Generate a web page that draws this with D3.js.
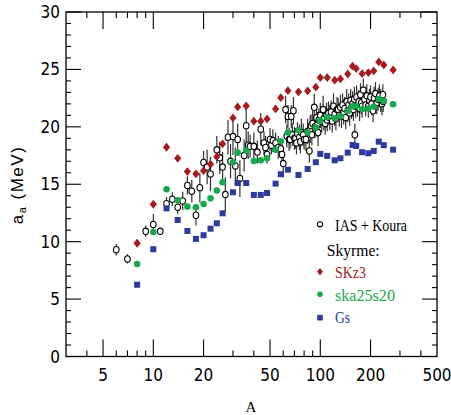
<!DOCTYPE html>
<html>
<head>
<meta charset="utf-8">
<style>
  body { margin: 0; background: #fff; }
  svg { display: block; }
</style>
</head>
<body>
<svg width="451" height="415"></svg>
<script src="https://d3js.org/d3.v7.min.js"></script>
<script>
// experimental values (IAS + Koura): mass number, a_a, error
var expA   = [6,7,9,10,11,12,13,14,15,16,17,18,19,20,21,22,24,25,26,27,28,29,30,31,32,33,35,36,37,38,40,42,44,46,47,48,50,51,52,54,56,58,59,60,
              62,63,64,65,66,67,68,69,70,71,72,73,75,76,77,79,80,82,84,86,87,88,89,90,92,93,95,96,97,98,100,102,104,105,107,109,110,112,114,116,118,
              120,122,124,126,128,130,132,134,136,138,140,142,144,146,148,150,152,154,156,158,160,161,163,165,167,170,172,174,176,178,181,184,187,
              190,194,197,200,203,207,210,214,218,222,226,230,234,237,238];
var expVal = [9.3,8.5,10.9,11.5,10.9,13.3,13.7,13.0,13.55,14.9,14.4,12.3,14.7,16.9,16.5,15.9,18.0,17.3,16.5,14.1,19.1,17.0,19.15,16.6,18.9,15.5,17.5,20.1,18.4,18.3,18.3,17.8,19.8,18.6,18.2,17.6,18.9,18.4,18.8,18.6,18.2,18.1,17.6,16.8,
              21.5,19.2,20.9,18.9,18.9,20.9,19.3,21.4,19.0,19.0,18.6,19.4,19.1,18.7,19.5,19.3,18.9,18.9,19.6,17.9,19.8,20.1,19.3,20.3,21.7,20.0,20.8,20.2,19.5,20.6,21.0,20.5,21.5,20.7,20.3,21.0,20.6,21.2,20.8,21.3,20.5,
              21.8,21.1,20.7,21.5,21.5,21.0,21.7,20.9,21.9,21.3,21.6,20.8,22.2,21.4,21.9,21.2,22.3,21.7,22.0,21.5,22.4,19.3,21.8,22.6,21.9,22.2,21.6,22.8,22.1,21.8,23.2,22.4,21.9,
              22.7,21.8,22.3,22.6,22.0,21.4,22.5,22.9,22.1,22.4,22.7,22.3,22.0,22.8,22.2];
var expErr = [0.5,0.4,0.5,0.9,0.3,0.6,0.6,0.6,0.8,0.8,1.0,0.9,1.3,1.0,1.5,1.5,1.2,1.4,1.3,1.5,1.5,1.5,1.6,1.6,1.4,1.6,1.4,1.5,1.2,1.0,1.2,1.0,1.4,1.0,1.0,0.8,1.0,0.8,1.0,0.9,1.0,0.8,1.0,1.2,
              1.2,1.0,1.0,1.0,0.8,1.0,1.0,1.2,1.0,0.9,1.0,1.0,1.1,1.0,1.2,1.0,0.9,1.0,1.1,1.0,1.2,1.0,0.9,1.1,1.2,1.0,1.0,1.1,1.2,1.0,1.1,1.0,1.2,1.0,1.0,1.1,1.0,1.0,1.1,1.0,1.0,
              1.1,1.0,1.0,1.1,1.0,1.0,1.1,1.0,1.0,1.1,1.0,1.0,1.1,1.0,1.0,1.1,1.0,1.0,1.1,1.0,1.1,1.0,1.0,1.0,1.0,1.0,1.1,1.0,1.0,1.0,1.0,1.0,1.0,
              1.0,1.0,1.0,1.0,1.0,1.0,1.0,1.0,1.0,1.0,1.0,1.0,1.0,0.9,0.9];

// Skyrme calculations
var skA     = [8,10,12,14,16,18,20,22,24,26,30,32,36,40,44,48,54,58,64,74,84,94,100,110,122,132,146,156,164,178,194,209,224,240,273];
var skz3    = [9.86,13.26,18.22,17.26,16.1,15.9,16.18,16.74,17.4,18.51,20.78,21.73,21.82,20.49,20.49,20.69,21.56,22.54,23.15,23.04,23.13,23.45,24.29,24.29,24.06,24.17,24.6,25.28,25.07,24.63,24.72,24.87,25.65,25.39,24.96];
var ska25s20= [8.06,10.84,14.56,13.6,13.05,13.0,13.28,13.77,14.46,15.17,16.92,17.75,17.93,17.03,17.09,17.26,18.01,18.75,19.5,19.7,19.53,19.97,20.54,20.84,20.75,20.92,21.38,21.79,21.82,21.53,21.59,21.76,22.43,22.26,21.97];
var gs      = [6.25,9.34,12.9,11.89,10.93,10.24,10.56,11.13,11.6,12.47,14.3,15.11,15.11,14.07,14.07,14.24,15.05,15.87,16.27,15.81,16.33,16.92,17.64,17.47,17.09,17.26,17.75,18.42,18.34,17.79,17.7,17.9,18.71,18.4,18.01];

var xLabels = [5,10,20,50,100,200,500];
var xMinor  = [4,6,7,8,9,30,40,60,70,80,90,300,400];
var yLabels = [0,5,10,15,20,25,30];

var red = "#a61b20", green = "#17a94b", blue = "#2b3a9c";

var svg = d3.select("svg"),
    margin = {top: 12, left: 66},
    width = 371, height = 344.5,
    g = svg.append("g").attr("transform", "translate(" + margin.left + "," + margin.top + ")");

var x = d3.scaleLog().domain([3, 500]).range([0, width]);
var y = d3.scaleLinear().domain([0, 30]).range([height, 0]);

var numFont = "'Liberation Sans Narrow','DejaVu Sans Condensed',sans-serif";

// frame
g.append("rect")
  .attr("width", width).attr("height", height)
  .attr("fill", "none").attr("stroke", "#000").attr("stroke-width", 1.3);

// x ticks (bottom and top)
var xt = xLabels.slice(0, -1).map(function(v) { return {v: v, len: 17}; })
  .concat(xMinor.map(function(v) { return {v: v, len: 6}; }));
g.selectAll(".xtb").data(xt).enter().append("line")
  .attr("x1", function(d) { return x(d.v); }).attr("x2", function(d) { return x(d.v); })
  .attr("y1", height).attr("y2", function(d) { return height - d.len; })
  .attr("stroke", "#000").attr("stroke-width", 1.1);
g.selectAll(".xtt").data(xt).enter().append("line")
  .attr("x1", function(d) { return x(d.v); }).attr("x2", function(d) { return x(d.v); })
  .attr("y1", 0).attr("y2", function(d) { return d.len; })
  .attr("stroke", "#000").attr("stroke-width", 1.1);
g.selectAll(".xl").data(xLabels).enter().append("text")
  .attr("x", function(d) { return x(d); }).attr("y", height + 24)
  .attr("text-anchor", "middle")
  .style("font-family", numFont).style("font-size", "17px")
  .text(function(d) { return d; });

// y ticks (left and right)
var yt = d3.range(0, 31).map(function(v) { return {v: v, len: v % 5 === 0 ? 15 : 5}; });
g.selectAll(".ytl").data(yt).enter().append("line")
  .attr("x1", 0).attr("x2", function(d) { return d.len; })
  .attr("y1", function(d) { return y(d.v); }).attr("y2", function(d) { return y(d.v); })
  .attr("stroke", "#000").attr("stroke-width", 1.1);
g.selectAll(".ytr").data(yt).enter().append("line")
  .attr("x1", width).attr("x2", function(d) { return width - d.len; })
  .attr("y1", function(d) { return y(d.v); }).attr("y2", function(d) { return y(d.v); })
  .attr("stroke", "#000").attr("stroke-width", 1.1);
g.selectAll(".yl").data(yLabels).enter().append("text")
  .attr("x", -6).attr("y", function(d) { return y(d) + 6; })
  .attr("text-anchor", "end")
  .style("font-family", numFont).style("font-size", "17px")
  .text(function(d) { return d; });

// axis titles
var yt2 = svg.append("text")
  .attr("transform", "translate(23,185) rotate(-90)")
  .attr("text-anchor", "middle")
  .style("font-family", "'Liberation Sans',sans-serif").style("font-size", "17px")
  .style("letter-spacing", "1.5px");
yt2.append("tspan").text("a");
yt2.append("tspan").attr("dy", 3).style("font-size", "11px").text("a");
yt2.append("tspan").attr("dy", -3).text("  (MeV)");

svg.append("text")
  .attr("x", 251).attr("y", 411.5).attr("text-anchor", "middle")
  .style("font-family", "'Liberation Serif',serif").style("font-size", "15px")
  .text("A");

// experimental points with error bars
var exp = expA.map(function(a, i) { return {a: a, v: expVal[i], e: expErr[i]}; });
g.selectAll(".err").data(exp).enter().append("line")
  .attr("x1", function(d) { return x(d.a); }).attr("x2", function(d) { return x(d.a); })
  .attr("y1", function(d) { return y(d.v - d.e); }).attr("y2", function(d) { return y(d.v + d.e); })
  .attr("stroke", "#333").attr("stroke-width", 1.2);
g.selectAll(".exp").data(exp).enter().append("ellipse")
  .attr("cx", function(d) { return x(d.a); }).attr("cy", function(d) { return y(d.v); })
  .attr("rx", 2.8).attr("ry", 3.2)
  .attr("fill", "#fff").attr("stroke", "#000").attr("stroke-width", 1.1);

// Skyrme markers
var diamond = "M0,-4.4L3.6,0L0,4.4L-3.6,0Z";
g.selectAll(".skz3").data(skA).enter().append("path")
  .attr("d", diamond)
  .attr("transform", function(d, i) { return "translate(" + x(d) + "," + y(skz3[i]) + ")"; })
  .attr("fill", red);
g.selectAll(".ska").data(skA).enter().append("circle")
  .attr("cx", function(d) { return x(d); }).attr("cy", function(d, i) { return y(ska25s20[i]); })
  .attr("r", 3.3).attr("fill", green);
g.selectAll(".gs").data(skA).enter().append("rect")
  .attr("x", function(d) { return x(d) - 3; }).attr("y", function(d, i) { return y(gs[i]) - 3; })
  .attr("width", 6).attr("height", 6).attr("fill", blue);

// legend
var lg = svg.append("g").style("font-family", "'Liberation Serif',serif").style("font-size", "16px");
lg.append("circle").attr("cx", 320).attr("cy", 224.3).attr("r", 2.6)
  .attr("fill", "#fff").attr("stroke", "#000").attr("stroke-width", 1.1);
lg.append("text").attr("x", 335).attr("y", 230.7).attr("textLength", 72).attr("lengthAdjust", "spacingAndGlyphs").text("IAS + Koura");
lg.append("text").attr("x", 326.7).attr("y", 255.7).attr("textLength", 53).attr("lengthAdjust", "spacingAndGlyphs").text("Skyrme:");
lg.append("path").attr("d", "M0,-3.8L3,0L0,3.8L-3,0Z").attr("transform", "translate(320,271.7)").attr("fill", red);
lg.append("text").attr("x", 335).attr("y", 278).attr("fill", red).attr("textLength", 31).attr("lengthAdjust", "spacingAndGlyphs").text("SKz3");
lg.append("circle").attr("cx", 320).attr("cy", 294.3).attr("r", 2.8).attr("fill", green);
lg.append("text").attr("x", 335).attr("y", 300.7).attr("fill", green).attr("textLength", 60).attr("lengthAdjust", "spacingAndGlyphs").text("ska25s20");
lg.append("rect").attr("x", 317.2).attr("y", 314.9).attr("width", 5.6).attr("height", 5.6).attr("fill", blue);
lg.append("text").attr("x", 335).attr("y", 323.3).attr("fill", blue).attr("textLength", 15).attr("lengthAdjust", "spacingAndGlyphs").text("Gs");
</script>
</body>
</html>
